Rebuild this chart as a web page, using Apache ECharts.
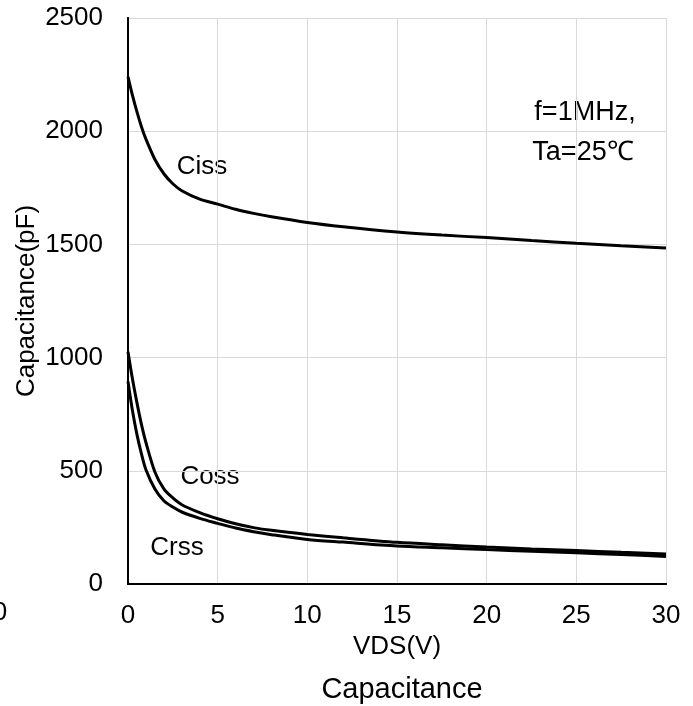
<!DOCTYPE html>
<html>
<head>
<meta charset="utf-8">
<script src="https://cdn.jsdelivr.net/npm/echarts@6/dist/echarts.min.js"></script>
<style>
  html, body { margin: 0; padding: 0; background: #fff; }
  #main { width: 693px; height: 706px; }
</style>
</head>
<body>
<div id="main"></div>
<script>
// VDS (V) sample points
const vds = [0, 0.25, 0.5, 0.75, 1, 1.5, 2, 2.5, 3, 4, 5, 6, 7, 8, 10, 12, 15, 17.5, 20, 22.5, 25, 27.5, 30];
// capacitances (pF)
const ciss = [2240, 2158, 2085, 2020, 1965, 1875, 1812, 1768, 1737, 1700, 1678, 1655, 1637, 1622, 1597, 1578, 1555, 1541, 1530, 1517, 1505, 1494, 1484];
const coss = [1026, 905, 800, 705, 625, 495, 420, 380, 350, 315, 288, 266, 249, 237, 219, 204, 184, 173, 163, 155, 148, 140, 133];
const crss = [895, 765, 660, 575, 505, 420, 368, 340, 318, 290, 268, 247, 231, 218, 197, 185, 168, 160, 152, 145, 138, 130, 122];

const xTicks = [0, 5, 10, 15, 20, 25, 30];
const yTicks = [0, 500, 1000, 1500, 2000, 2500];

const FONT = 'Liberation Sans, Arial, sans-serif';

const chart = echarts.init(document.getElementById('main'));

function pairs(ys) {
  return vds.map((v, i) => [v, ys[i]]);
}

function curve(name, ys) {
  return {
    name: name,
    type: 'line',
    data: pairs(ys),
    smooth: 0.3,
    showSymbol: false,
    silent: true,
    lineStyle: { color: '#000', width: 3 },
    xAxisIndex: 0,
    yAxisIndex: 0
  };
}

function note(text, x, y, size) {
  return {
    type: 'text', x: x, y: y,
    style: { text: text, font: size + 'px ' + FONT, fill: '#000', textAlign: 'center', textVerticalAlign: 'middle' }
  };
}

const option = {
  animation: false,
  backgroundColor: '#fff',
  textStyle: { fontFamily: FONT },
  title: {
    text: 'Capacitance',
    left: 397,
    textAlign: 'center',
    top: 670,
    textStyle: { fontFamily: FONT, fontSize: 29, fontWeight: 'normal', color: '#000' }
  },
  grid: { left: 128, right: 27, top: 18, bottom: 122, containLabel: false, outerBoundsMode: 'none' },
  xAxis: [{
    type: 'value',
    min: xTicks[0],
    max: xTicks[xTicks.length - 1],
    interval: 5,
    name: 'VDS(V)',
    nameLocation: 'middle',
    nameGap: 44,
    nameTextStyle: { fontFamily: FONT, fontSize: 26, color: '#000' },
    axisLine: { show: true, lineStyle: { color: '#000', width: 2 } },
    axisTick: { show: false },
    axisLabel: { fontFamily: FONT, fontSize: 26, color: '#000', margin: 19 },
    splitLine: { show: true, lineStyle: { color: '#d9d9d9', width: 1 } }
  }, {
    type: 'value',
    position: 'top',
    min: xTicks[0],
    max: xTicks[xTicks.length - 1],
    interval: 5,
    axisLine: { show: true, lineStyle: { color: '#000', width: 2 } },
    axisTick: { show: false },
    axisLabel: { show: false },
    splitLine: { show: false }
  }],
  yAxis: [{
    type: 'value',
    min: yTicks[0],
    max: yTicks[yTicks.length - 1],
    interval: 500,
    name: 'Capacitance(pF)',
    nameLocation: 'middle',
    nameGap: 88,
    nameMoveOverlap: false,
    nameTextStyle: { fontFamily: FONT, fontSize: 26, color: '#000' },
    axisLine: { show: true, lineStyle: { color: '#000', width: 2 } },
    axisTick: { show: false },
    axisLabel: { fontFamily: FONT, fontSize: 26, color: '#000', margin: 25, formatter: v => String(v) },
    splitLine: { show: true, lineStyle: { color: '#d9d9d9', width: 1 } }
  }, {
    type: 'value',
    position: 'right',
    min: yTicks[0],
    max: yTicks[yTicks.length - 1],
    interval: 500,
    axisLine: { show: true, lineStyle: { color: '#000', width: 2 } },
    axisTick: { show: false },
    axisLabel: { show: false },
    splitLine: { show: false }
  }],
  graphic: [
    note('Ciss', 202, 167, 26),
    note('Coss', 210, 477, 26),
    note('Crss', 177, 548, 26),
    note('f=1MHz,', 585, 113, 27),
    note('Ta=25℃', 583, 153, 27),
    note('0', 0, 613, 26)
  ],
  series: [
    curve('Ciss', ciss),
    curve('Coss', coss),
    curve('Crss', crss)
  ]
};

chart.setOption(option);
</script>
</body>
</html>
